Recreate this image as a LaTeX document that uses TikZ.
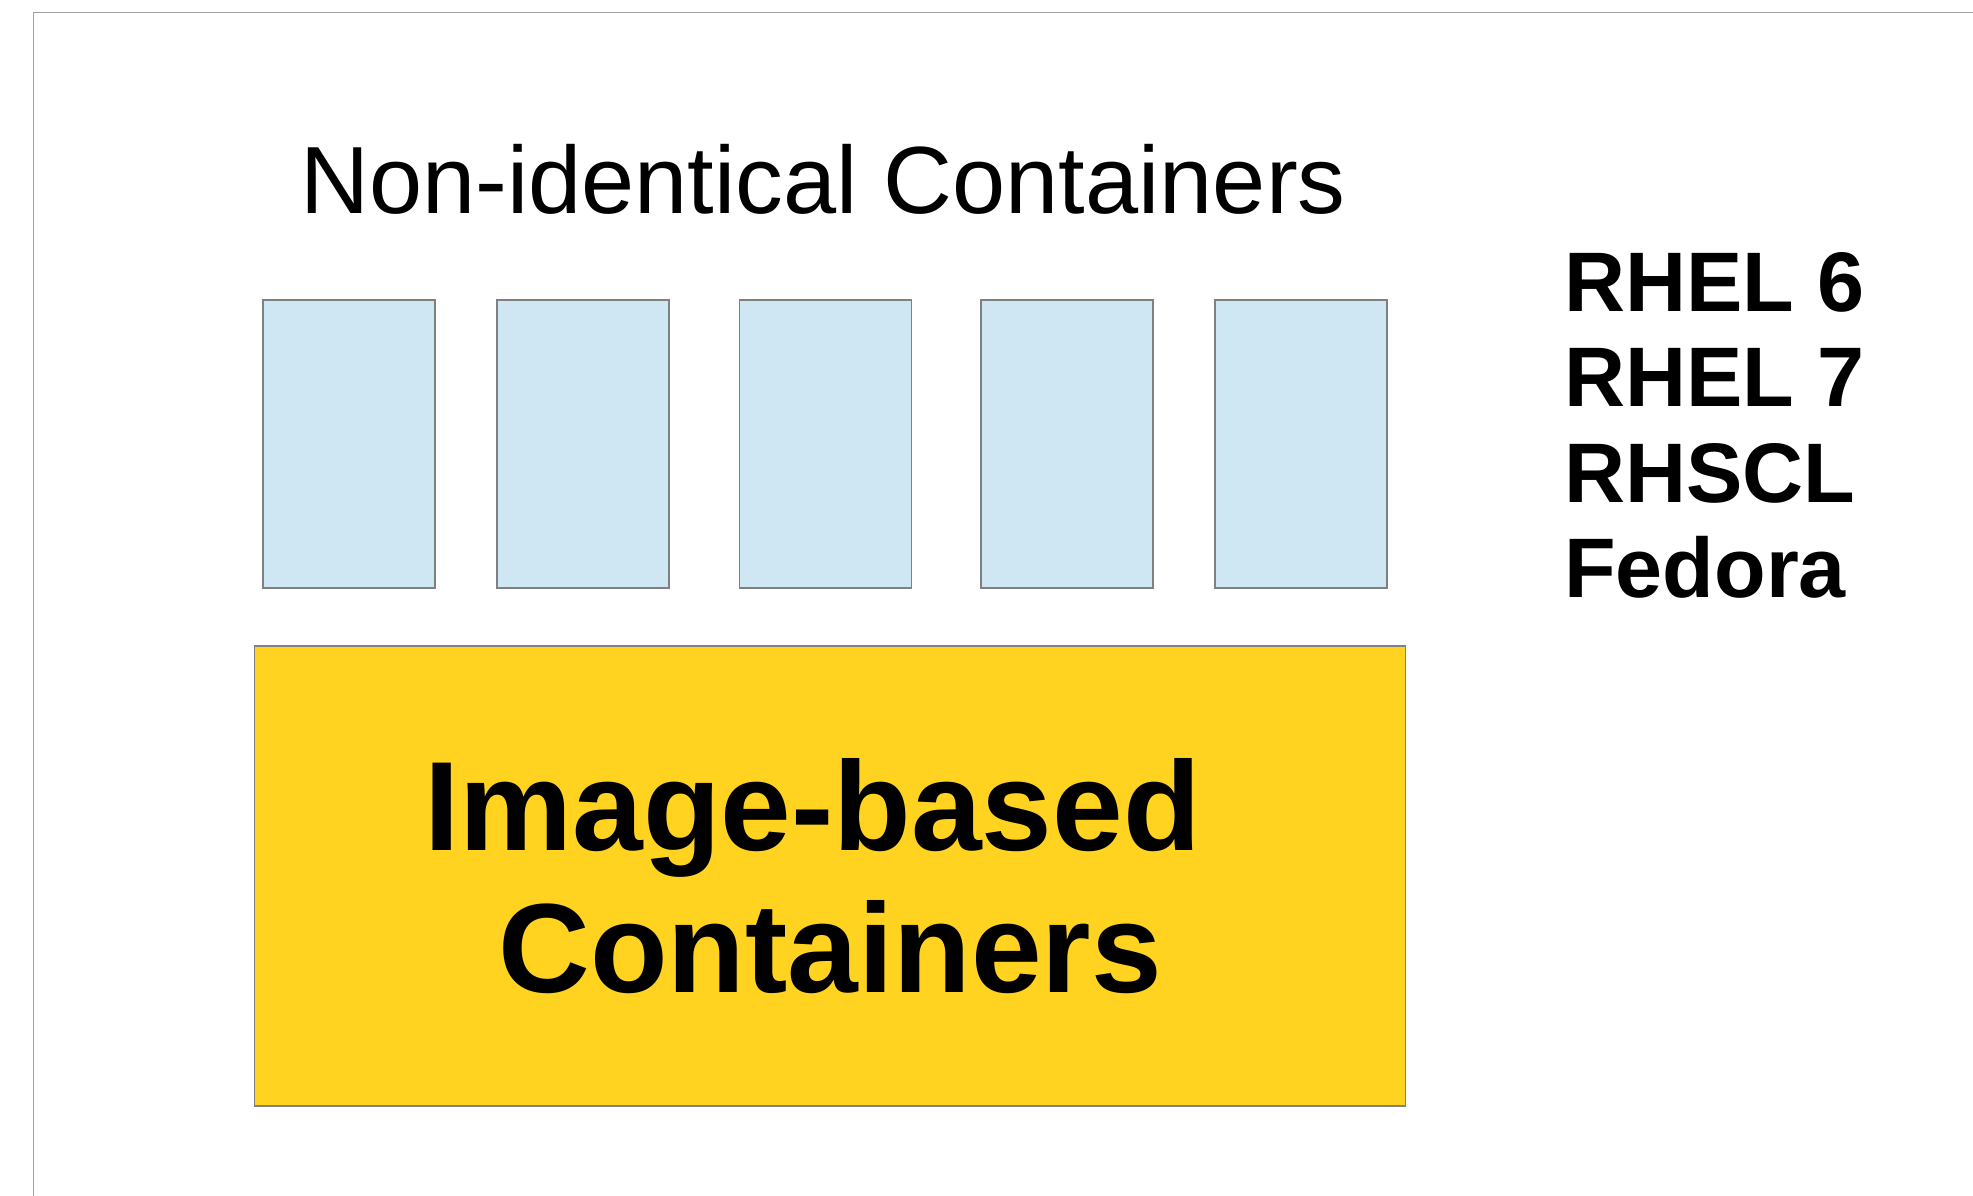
\documentclass[tikz,border=0pt]{standalone}
\usepackage{fontspec}
\setmainfont{Liberation Sans}
\definecolor{boxblue}{RGB}{207,230,243}
\definecolor{imgyellow}{RGB}{255,211,32}
\definecolor{edgegray}{RGB}{128,128,128}
\definecolor{framegray}{RGB}{160,160,160}
\tikzset{
  ctr/.style={draw=edgegray,line width=1.2pt,fill=boxblue,minimum width=172pt,minimum height=288pt,inner sep=0pt},
  imgbox/.style={draw=edgegray,line width=1.2pt,fill=imgyellow,minimum width=1151pt,minimum height=460pt,inner sep=0pt},
  distro/.style={anchor=base west,inner sep=0pt,font=\fontsize{84.5}{98}\selectfont\bfseries}
}
\begin{document}
\begin{tikzpicture}[x=1pt,y=-1pt]
\useasboundingbox (0,0) rectangle (1973,1196);
% frame
\draw[framegray,line width=1.5pt] (33.5,1196) -- (33.5,12.5) -- (1973,12.5);
% title
\node[anchor=base,inner sep=0pt,font=\fontsize{95.5}{115}\selectfont] (title) at (823,213) {Non-identical Containers};
% the five containers
\foreach \x [count=\i] in {349,583,825.5,1067,1301}
  \node[ctr] (c\i) at (\x,444) {};
% base
\node[imgbox,align=center,font=\fontsize{127}{142}\selectfont\bfseries] (img) at (830,876) {Image-based\hspace*{35pt}\\Containers};
% distributions
\foreach \t [count=\i] in {RHEL 6,RHEL 7,RHSCL,Fedora}
  \node[distro] (d\i) at (1564,311+95.5*\i-95.5) {\t};
\end{tikzpicture}
\end{document}
